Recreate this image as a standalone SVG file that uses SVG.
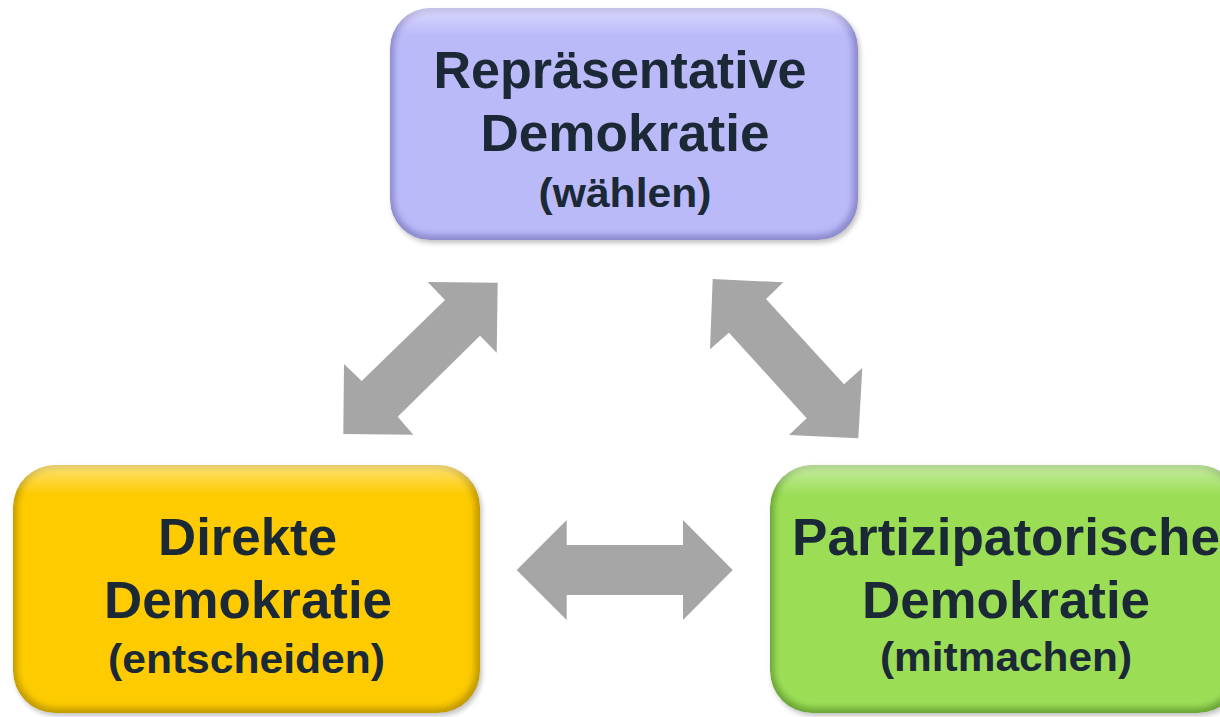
<svg xmlns="http://www.w3.org/2000/svg" width="1220" height="717" viewBox="0 0 1220 717">
<defs>
<style>
.t{font-family:"Liberation Sans",Arial,sans-serif;font-weight:bold;fill:#1B2836;text-anchor:middle}
.big{font-size:51px}
.small{font-size:41px}
.arr{fill:#A6A6A6}
</style>
<filter id="soft" x="-10%" y="-10%" width="120%" height="120%"><feGaussianBlur stdDeviation="3"/></filter>
<filter id="shadow" x="-10%" y="-10%" width="120%" height="120%"><feGaussianBlur stdDeviation="2.5"/></filter>
<linearGradient id="hl" x1="0" y1="0" x2="0" y2="1">
<stop offset="0" stop-color="#fff" stop-opacity="0.45"/>
<stop offset="0.12" stop-color="#fff" stop-opacity="0"/>
<stop offset="1" stop-color="#fff" stop-opacity="0"/>
</linearGradient>
<clipPath id="cTop"><rect x="390" y="8" width="468" height="232" rx="40"/></clipPath>
<clipPath id="cLeft"><rect x="13" y="465" width="467" height="248" rx="42"/></clipPath>
<clipPath id="cRight"><rect x="770" y="465" width="470" height="248" rx="42"/></clipPath>
</defs>
<rect width="1220" height="717" fill="#fff"/>

<g id="connectors">
<polygon class="arr" points="427.7,282 497.7,282.7 496.7,352.7 480,335.7 397.7,416.7 413.3,434.7 343.3,434 344,364 361.7,381 445,300"/>
<polygon class="arr" points="712.7,279 783.3,282.3 766,299 844,384.3 862.3,368 858.3,438.3 789,435 806.7,418.3 729,332.7 710,349.3"/>
<polygon class="arr" points="516.7,570 566.7,520 566.7,545 683,545 683,520 732.7,570 683,620 683,595 566.7,595 566.7,620"/>
</g>

<g id="node-top">
<rect x="392" y="11" width="468" height="232" rx="40" fill="#888" opacity="0.5" filter="url(#shadow)"/>
<g clip-path="url(#cTop)">
<rect x="390" y="8" width="468" height="232" rx="40" fill="#8A89CC"/>
<rect x="394" y="11" width="459" height="224" rx="37" fill="#BBBAF9" filter="url(#soft)"/>
<rect x="390" y="8" width="468" height="232" rx="40" fill="url(#hl)"/>
</g>
<text class="t big" x="620" y="88" textLength="373" lengthAdjust="spacingAndGlyphs">Repräsentative</text>
<text class="t big" x="625" y="151" textLength="289" lengthAdjust="spacingAndGlyphs">Demokratie</text>
<text class="t small" x="625" y="207" textLength="173" lengthAdjust="spacingAndGlyphs">(wählen)</text>
</g>

<g id="node-left">
<rect x="15" y="468" width="467" height="248" rx="42" fill="#888" opacity="0.5" filter="url(#shadow)"/>
<g clip-path="url(#cLeft)">
<rect x="13" y="465" width="467" height="248" rx="42" fill="#C29A00"/>
<rect x="17" y="468" width="458" height="240" rx="39" fill="#FDCB03" filter="url(#soft)"/>
<rect x="13" y="465" width="467" height="248" rx="42" fill="url(#hl)"/>
</g>
<text class="t big" x="247.5" y="555" textLength="179" lengthAdjust="spacingAndGlyphs">Direkte</text>
<text class="t big" x="248" y="618" textLength="288" lengthAdjust="spacingAndGlyphs">Demokratie</text>
<text class="t small" x="246.5" y="673" textLength="277" lengthAdjust="spacingAndGlyphs">(entscheiden)</text>
</g>

<g id="node-right">
<rect x="772" y="468" width="470" height="248" rx="42" fill="#888" opacity="0.5" filter="url(#shadow)"/>
<g clip-path="url(#cRight)">
<rect x="770" y="465" width="470" height="248" rx="42" fill="#6AA536"/>
<rect x="774" y="468" width="461" height="240" rx="39" fill="#9BDE56" filter="url(#soft)"/>
<rect x="770" y="465" width="470" height="248" rx="42" fill="url(#hl)"/>
</g>
<text class="t big" x="1006" y="555" textLength="428" lengthAdjust="spacingAndGlyphs">Partizipatorische</text>
<text class="t big" x="1006" y="618" textLength="288" lengthAdjust="spacingAndGlyphs">Demokratie</text>
<text class="t small" x="1006" y="671" textLength="252" lengthAdjust="spacingAndGlyphs">(mitmachen)</text>
</g>
</svg>
